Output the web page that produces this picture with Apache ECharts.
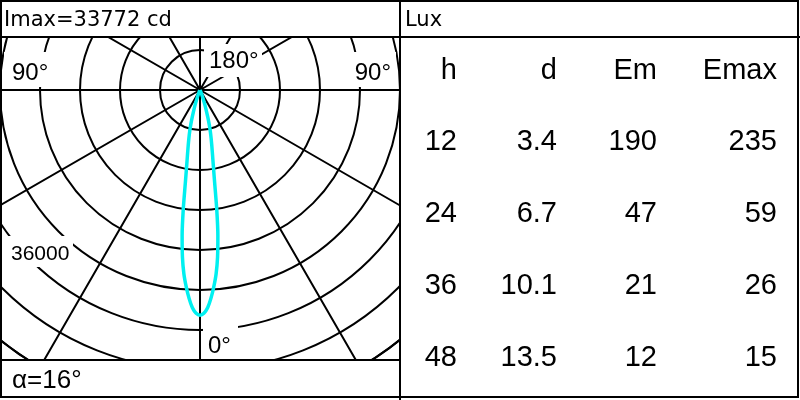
<!DOCTYPE html>
<html><head><meta charset="utf-8">
<script src="https://cdn.jsdelivr.net/npm/echarts@6/dist/echarts.min.js"></script>
<style>html,body{margin:0;padding:0;background:#fff}#c{width:800px;height:400px}</style>
</head><body><div id="c"></div>
<script>
// ---- data ----
const curveAngles    = [0, 1, 2, 3, 4, 5, 6, 7, 8, 9, 10, 11, 12, 13, 14, 15, 16, 18, 20, 25, 30, 90];
const curveIntensity = [33772, 33500, 32700, 31300, 29600, 27700, 25200, 22000, 18000, 14000, 11500, 9800, 8500, 7400, 6400, 5300, 4200, 2500, 1200, 300, 60, 0];
const imax = 33772;
const beamAngle = 16;
const radiusMax = 48000;
const radiusStep = 6000;
const radiusLabel = 36000;
const angleStep = 30;
const angleLabels = ['0°', '90°', '180°', '90°'];
const tableHeader = ['h', 'd', 'Em', 'Emax'];
const hValues = ['12', '24', '36', '48'];
const dValues = ['3.4', '6.7', '10.1', '13.5'];
const emValues = ['190', '47', '21', '12'];
const emaxValues = ['235', '59', '26', '15'];

// ---- build ----
const seriesData = [];
for (let i = curveAngles.length - 1; i >= 1; i--) seriesData.push([curveIntensity[i], 360 - curveAngles[i]]);
for (let i = 0; i < curveAngles.length; i++) seriesData.push([curveIntensity[i], curveAngles[i]]);

const SANS = '"Liberation Sans", Arial, sans-serif';
const DEJA = '"DejaVu Sans", sans-serif';
function txt(text, x, y, size, align, family) {
  return { type: 'text', z: 102, x: x, y: y, style: { text: text, fill: '#000', fontSize: size, fontFamily: family || SANS, textAlign: align || 'left', textVerticalAlign: 'middle' } };
}
function box(x, y, w, h) {
  return { type: 'rect', z: 100, shape: { x: x, y: y, width: w, height: h }, style: { fill: '#fff' } };
}
function line(x1, y1, x2, y2) {
  return { type: 'line', z: 101, shape: { x1: x1, y1: y1, x2: x2, y2: y2 }, style: { stroke: '#000', lineWidth: 2 } };
}

const elements = [
  // masks outside the diagram area
  box(0, 0, 800, 37), box(400, 0, 400, 400), box(0, 360, 400, 40),
  // label backgrounds
  box(204, 44, 58, 33), box(4, 52, 48, 35), box(350, 52, 46, 35), box(203, 324, 35, 34), box(7, 236, 66, 31),
  // frame
  { type: 'rect', z: 101, shape: { x: 1, y: 1, width: 797, height: 396 }, style: { fill: 'none', stroke: '#000', lineWidth: 2 } },
  line(0, 37, 800, 37), line(0, 360, 400, 360), line(400, 0, 400, 400),
  // texts
  txt('Imax=' + imax + ' cd', 4, 21, 21, 'left', DEJA),
  txt('Lux', 405, 21, 21, 'left', DEJA),
  txt(angleLabels[2], 209, 61, 24),
  txt(angleLabels[1], 12, 73, 24),
  txt(angleLabels[3], 391, 73, 24, 'right'),
  txt(angleLabels[0], 208, 346, 24),
  txt(String(radiusLabel), 11, 254, 21),
  txt('α=' + beamAngle + '°', 12, 381, 26)
];
const colRight = [457, 557, 657, 777];
const rowY = [71, 142, 214, 286, 358];
const cols = [hValues, dValues, emValues, emaxValues];
tableHeader.forEach((h, c) => elements.push(txt(h, colRight[c], rowY[0], 29, 'right')));
cols.forEach((col, c) => col.forEach((v, r) => elements.push(txt(v, colRight[c], rowY[r + 1], 29, 'right'))));

const chart = echarts.init(document.getElementById('c'), null, { renderer: 'canvas' });
chart.setOption({
  animation: false,
  backgroundColor: '#fff',
  polar: { center: [200, 90], radius: [0, 320] },
  angleAxis: {
    type: 'value', min: 0, max: 360, interval: angleStep, startAngle: 270, clockwise: true,
    axisLine: { show: true, lineStyle: { color: '#000', width: 2 } },
    axisTick: { show: false }, axisLabel: { show: false },
    splitLine: { show: true, lineStyle: { color: '#000', width: 2 } }
  },
  radiusAxis: {
    type: 'value', min: 0, max: radiusMax, interval: radiusStep,
    axisLine: { show: false }, axisTick: { show: false }, axisLabel: { show: false },
    splitLine: { show: true, lineStyle: { color: '#000', width: 2 } }
  },
  series: [{
    type: 'line', coordinateSystem: 'polar', data: seriesData, symbol: 'none', smooth: 0.3,
    lineStyle: { color: '#00f0f0', width: 3.5 }, z: 5
  }],
  graphic: { elements: elements }
});
</script>
</body></html>
